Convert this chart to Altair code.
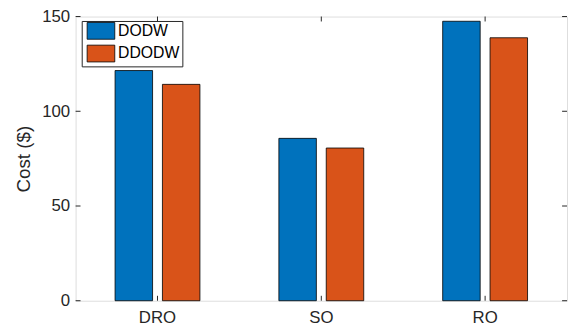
import altair as alt
import pandas as pd

categories = ["DRO", "SO", "RO"]
series = ["DODW", "DDODW"]
dodw = [121.5, 85.7, 147.5]
ddodw = [114.2, 80.6, 138.8]
y_ticks = [0, 50, 100, 150]
colors = ["#0072BD", "#D95319"]

W = 498
H = 288
FONT = "Liberation Sans"
AX = "#262626"
TL = 5

rows = []
for c, a, b in zip(categories, dodw, ddodw):
    rows.append({"cat": c, "series": series[0], "cost": a})
    rows.append({"cat": c, "series": series[1], "cost": b})
df = pd.DataFrame(rows)
ytick_df = pd.DataFrame({"cost": y_ticks})
xtick_df = pd.DataFrame({"cat": categories})

x_scale = alt.Scale(domain=categories, paddingInner=0, paddingOuter=0)
y_scale = alt.Scale(domain=[0, 150], nice=False, zero=True)

bars = alt.Chart(df).mark_bar(stroke="black", strokeWidth=0.8).encode(
    x=alt.X("cat:N", scale=x_scale, sort=categories,
            axis=alt.Axis(title=None, labelAngle=0, ticks=False, domain=False,
                          labelPadding=9, labelFontSize=17, labelColor=AX, labelFont=FONT)),
    xOffset=alt.XOffset("series:N", sort=series,
                        scale=alt.Scale(domain=series, paddingInner=10 / 48, paddingOuter=0.8333)),
    y=alt.Y("cost:Q", scale=y_scale,
            axis=alt.Axis(title="Cost ($)", values=y_ticks, ticks=False, domain=False, grid=False,
                          labelPadding=6, labelFontSize=17, labelColor=AX, labelFont=FONT,
                          titleFontSize=19, titleFont=FONT, titleColor=AX, titleFontWeight="normal",
                          titlePadding=8)),
    color=alt.Color("series:N", sort=series, scale=alt.Scale(domain=series, range=colors),
                    legend=alt.Legend(title=None, orient="none", legendX=6.2, legendY=4.5,
                                      symbolType="M-2.8,-1.7H2.8V1.7H-2.8Z", symbolSize=100,
                                      symbolStrokeColor="black", symbolStrokeWidth=0.8,
                                      symbolOffset=9.5, labelOffset=9.3, rowPadding=1,
                                      padding=2, strokeColor=AX, fillColor="white",
                                      labelFontSize=16, labelFont=FONT, labelColor="black")),
)

yt_left = alt.Chart(ytick_df).mark_rule(color=AX, strokeWidth=1).encode(
    y=alt.Y("cost:Q", scale=y_scale), x=alt.value(0), x2=alt.value(TL))
yt_right = alt.Chart(ytick_df).mark_rule(color=AX, strokeWidth=1).encode(
    y=alt.Y("cost:Q", scale=y_scale), x=alt.value(W - TL), x2=alt.value(W))
xt_bottom = alt.Chart(xtick_df).mark_rule(color=AX, strokeWidth=1).encode(
    x=alt.X("cat:N", scale=x_scale, sort=categories, bandPosition=0.5),
    y=alt.value(H), y2=alt.value(H - TL))
xt_top = alt.Chart(xtick_df).mark_rule(color=AX, strokeWidth=1).encode(
    x=alt.X("cat:N", scale=x_scale, sort=categories, bandPosition=0.5),
    y=alt.value(0), y2=alt.value(TL))

chart = alt.layer(bars, yt_left, yt_right, xt_bottom, xt_top).properties(
    width=W, height=H,
    autosize=alt.AutoSizeParams(type="none"),
    padding={"left": 68.5, "top": 6.5, "right": 1, "bottom": 27},
).configure_view(stroke="#3a3a3a", strokeWidth=1).configure(background="white")

chart.save("out.html", embed_options={"renderer": "svg", "actions": False})
